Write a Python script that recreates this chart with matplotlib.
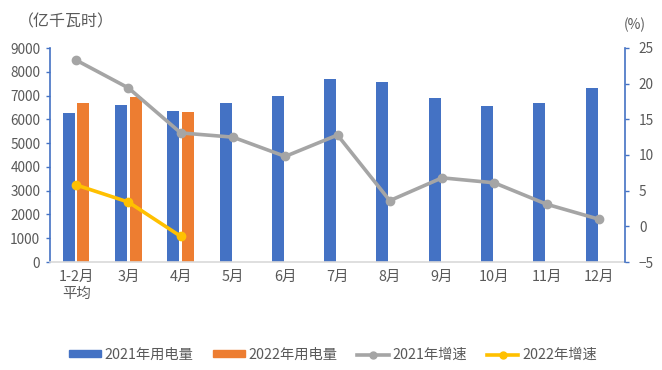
import matplotlib
matplotlib.use("Agg")
import matplotlib.pyplot as plt
import numpy as np
from matplotlib.lines import Line2D
from matplotlib.patches import Patch

plt.rcParams['font.family'] = ['Noto Sans CJK SC', 'DejaVu Sans']

categories = ["1-2月\n平均", "3月", "4月", "5月", "6月", "7月", "8月", "9月", "10月", "11月", "12月"]
use_2021 = [6270, 6620, 6330, 6700, 7000, 7700, 7560, 6910, 6560, 6670, 7330]
use_2022 = [6700, 6920, 6320]
growth_2021 = [23.3, 19.4, 13.1, 12.5, 9.8, 12.8, 3.6, 6.8, 6.1, 3.1, 1.0]
growth_2022 = [5.8, 3.4, -1.4]

blue = "#4472C4"
orange = "#ED7D31"
gray = "#A5A5A5"
yellow = "#FFC000"
txt = "#595959"

fig = plt.figure(figsize=(6.62, 3.70), dpi=100)
ax = fig.add_axes([50/662, 1-262/370, 575/662, 214/370])
ax2 = ax.twinx()

x = np.arange(len(categories))
w = 0.23
off = 0.14
ax.bar(x - off, use_2021, width=w, color=blue, zorder=2)
ax.bar(x[:len(use_2022)] + off, use_2022, width=w, color=orange, zorder=2)

ax2.plot(x, growth_2021, color=gray, lw=2.6, marker='o', ms=6, zorder=3)
ax2.plot(x[:len(growth_2022)], growth_2022, color=yellow, lw=2.6, marker='o', ms=6, zorder=3)

ax.set_xlim(-0.5, len(categories) - 0.5)
ax.set_ylim(0, 9000)
ax.set_yticks(range(0, 9001, 1000))
ax2.set_ylim(-5, 25)
ax2.set_yticks(range(-5, 26, 5))

ax.set_xticks(x)
ax.set_xticklabels(categories, fontsize=10.4, color=txt, linespacing=1.25)

for a in (ax, ax2):
    for s in a.spines.values():
        s.set_visible(False)
ax.spines['left'].set_visible(True)
ax.spines['left'].set_color(blue)
ax.spines['left'].set_linewidth(1.2)
ax2.spines['right'].set_visible(True)
ax2.spines['right'].set_color(blue)
ax2.spines['right'].set_linewidth(1.2)
ax.spines['bottom'].set_visible(True)
ax.spines['bottom'].set_color("#D9D9D9")
ax.spines['bottom'].set_linewidth(1.2)

ax.tick_params(axis='y', colors=blue, labelcolor=txt, labelsize=9.8, length=3, width=1, pad=4)
ax2.tick_params(axis='y', colors=blue, labelcolor=txt, labelsize=9.8, length=3, width=1, pad=7)
ax.tick_params(axis='x', length=0, pad=6)

fig.text(18/662, 1-22/370, "（亿千瓦时）", fontsize=11.5, color=txt, va='center', ha='left')
fig.text(635/662, 1-25/370, "(%)", fontsize=10, color=txt, va='center', ha='center')

handles = [
    Patch(color=blue),
    Patch(color=orange),
    Line2D([0], [0], color=gray, lw=2.6, marker='o', ms=5),
    Line2D([0], [0], color=yellow, lw=2.6, marker='o', ms=5),
]
labels = ["2021年用电量", "2022年用电量", "2021年增速", "2022年增速"]
leg = fig.legend(handles, labels, loc='center', bbox_to_anchor=(333/662, 1-355/370), ncol=4,
                 frameon=False, fontsize=10.3, handlelength=2.2, handleheight=0.35,
                 columnspacing=1.4, handletextpad=0.25)
for t in leg.get_texts():
    t.set_color(txt)

fig.savefig("out.png", dpi=100)
